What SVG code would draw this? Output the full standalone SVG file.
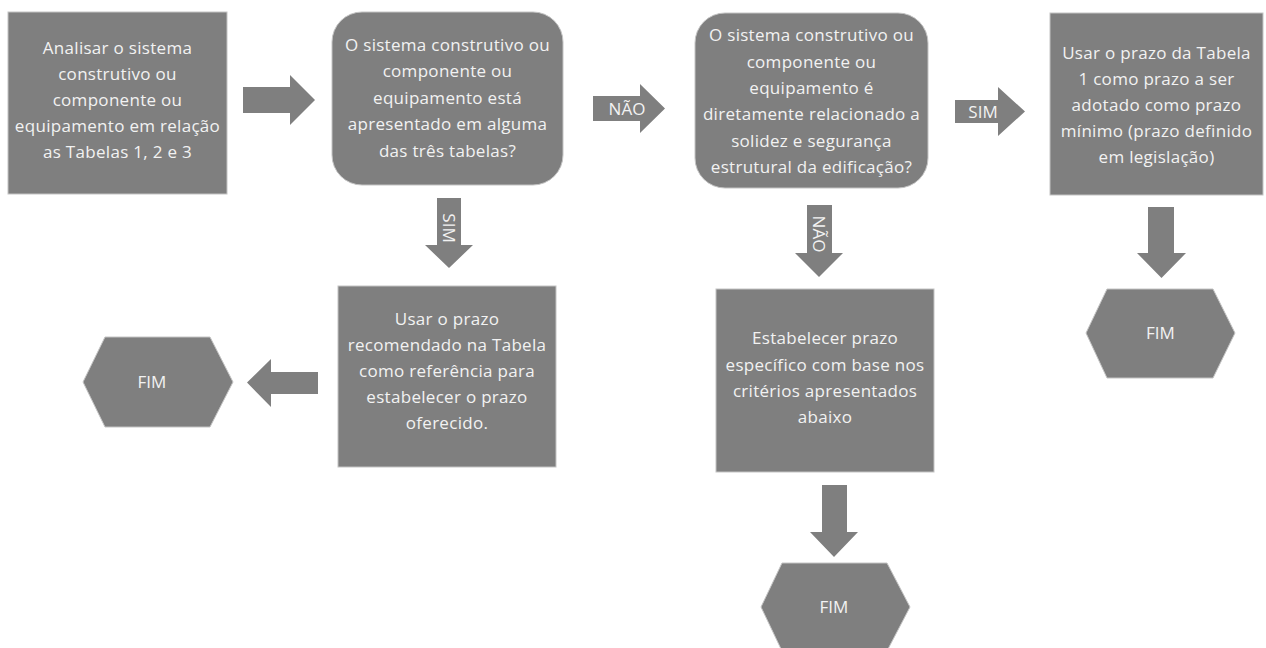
<svg xmlns="http://www.w3.org/2000/svg" width="1266" height="648" viewBox="0 0 1266 648">
<style>
.n{fill:#7f7f7f;stroke:#c4c4c4;stroke-width:1}
.a{fill:#7f7f7f}
.t{font-family:"Open Sans","Liberation Sans",sans-serif;font-size:17px;letter-spacing:0.3px;fill:#f2f2f2;text-anchor:middle}
.l{font-family:"Open Sans","Liberation Sans",sans-serif;font-size:17px;fill:#f2f2f2;text-anchor:middle}
</style>
<rect width="1266" height="648" fill="#ffffff"/>
<g id="connectors">
  <polygon class="a" points="243,87 290,87 290,75 315,100 290,125 290,113 243,113"/>
  <polygon class="a" points="593,96 640,96 640,84 665,108.5 640,133 640,121 593,121"/>
  <text class="l" x="627" y="114.5">NÃO</text>
  <polygon class="a" points="955,100 998,100 998,87 1025,111.5 998,136 998,123 955,123"/>
  <text class="l" x="983" y="117.5">SIM</text>
  <polygon class="a" points="437,198 461,198 461,245 473,245 449,268 425,245 437,245"/>
  <text class="l" transform="translate(449,228) rotate(90)" y="6">SIM</text>
  <polygon class="a" points="807,205 832,205 832,253 843,253 819,277 795,253 807,253"/>
  <text class="l" transform="translate(819,234) rotate(90)" y="6">NÃO</text>
  <polygon class="a" points="318,372 318,394 271,394 271,407 247,382.5 271,359 271,372"/>
  <polygon class="a" points="822,485 847,485 847,532 858,532 834,557 810,532 822,532"/>
  <polygon class="a" points="1148,207 1174,207 1174,253 1186,253 1161.5,278 1137,253 1148,253"/>
</g>
<g id="n1">
  <rect class="n" x="8" y="12" width="219" height="182"/>
  <text class="t" x="117.5" y="54">Analisar o sistema</text>
  <text class="t" x="117.5" y="80">construtivo ou</text>
  <text class="t" x="117.5" y="106">componente ou</text>
  <text class="t" x="117.5" y="132">equipamento em relação</text>
  <text class="t" x="117.5" y="158">as Tabelas 1, 2 e 3</text>
</g>
<g id="d1">
  <rect class="n" x="332" y="12" width="231" height="173" rx="30" ry="30"/>
  <text class="t" x="447.5" y="50.5">O sistema construtivo ou</text>
  <text class="t" x="447.5" y="77">componente ou</text>
  <text class="t" x="447.5" y="103.5">equipamento está</text>
  <text class="t" x="447.5" y="130">apresentado em alguma</text>
  <text class="t" x="447.5" y="156.5">das três tabelas?</text>
</g>
<g id="d2">
  <rect class="n" x="695" y="13" width="233" height="175" rx="30" ry="30"/>
  <text class="t" x="811.5" y="41">O sistema construtivo ou</text>
  <text class="t" x="811.5" y="67.5">componente ou</text>
  <text class="t" x="811.5" y="93.5">equipamento é</text>
  <text class="t" x="811.5" y="120">diretamente relacionado a</text>
  <text class="t" x="811.5" y="146.5">solidez e segurança</text>
  <text class="t" x="811.5" y="172.5">estrutural da edificação?</text>
</g>
<g id="n4">
  <rect class="n" x="1050" y="13" width="213" height="182"/>
  <text class="t" x="1156.5" y="58.5">Usar o prazo da Tabela</text>
  <text class="t" x="1156.5" y="84.5">1 como prazo a ser</text>
  <text class="t" x="1156.5" y="110.5">adotado como prazo</text>
  <text class="t" x="1156.5" y="136.5">mínimo (prazo definido</text>
  <text class="t" x="1156.5" y="162.5">em legislação)</text>
</g>
<g id="n3">
  <rect class="n" x="338" y="286" width="218" height="181"/>
  <text class="t" x="447" y="324.5">Usar o prazo</text>
  <text class="t" x="447" y="350.5">recomendado na Tabela</text>
  <text class="t" x="447" y="376.5">como referência para</text>
  <text class="t" x="447" y="402.5">estabelecer o prazo</text>
  <text class="t" x="447" y="428.5">oferecido.</text>
</g>
<g id="n5">
  <rect class="n" x="716" y="289" width="218" height="183"/>
  <text class="t" x="825" y="343.5">Estabelecer prazo</text>
  <text class="t" x="825" y="370.5">específico com base nos</text>
  <text class="t" x="825" y="396.5">critérios apresentados</text>
  <text class="t" x="825" y="422.5">abaixo</text>
</g>
<g id="fim1">
  <polygon class="n" points="105,337 210,337 233,382 210,427 105,427 83,382"/>
  <text class="l" x="152" y="388">FIM</text>
</g>
<g id="fim2">
  <polygon class="n" points="782,563 887,563 910,607 887,651 782,651 761,607"/>
  <text class="l" x="834" y="613">FIM</text>
</g>
<g id="fim3">
  <polygon class="n" points="1107,289 1213,289 1235,333 1213,378 1107,378 1086,333"/>
  <text class="l" x="1160.5" y="339">FIM</text>
</g>
</svg>
